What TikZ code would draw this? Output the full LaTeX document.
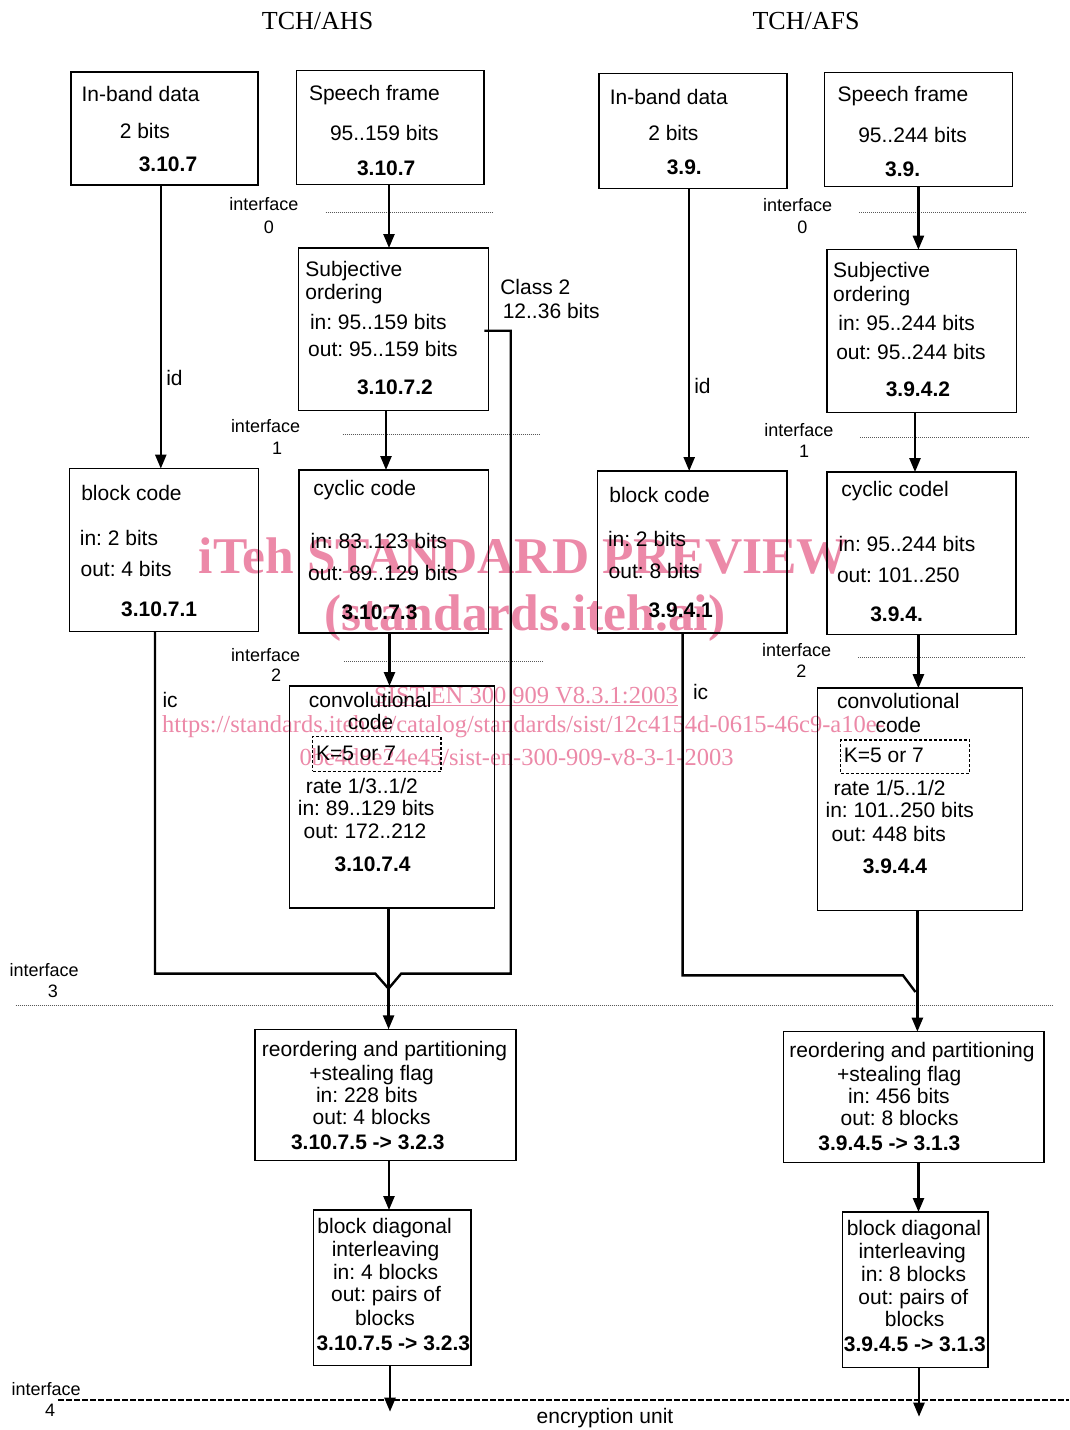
\documentclass[tikz,border=0pt]{standalone}
\usepackage{fontspec}
\usetikzlibrary{arrows.meta,fit}
\frenchspacing
\newfontfamily\arialf{Liberation Sans}
\newfontfamily\timesf{Liberation Serif}
\definecolor{wmpink}{RGB}{236,137,168}
\newcommand\fA{\arialf\fontsize{21}{25}\selectfont}
\newcommand\fAb{\arialf\bfseries\fontsize{21}{25}\selectfont}
\newcommand\fI{\arialf\fontsize{18}{21}\selectfont}
\newcommand\fT{\timesf\fontsize{26}{30}\selectfont}
\newcommand\fWb{\timesf\bfseries\fontsize{51.5}{55}\selectfont}
\newcommand\fW{\timesf\fontsize{24.5}{28}\selectfont}
\newcommand\Ltx[4]{\node[lbl,anchor=base west] (#1) at (#2,#3) {#4};}
\newcommand\Lbx[4]{\node[lblb,anchor=base west] (#1) at (#2,#3) {#4};}
\newcommand\Ctx[4]{\node[lbl,anchor=base] (#1) at (#2,#3) {#4};}
\newcommand\Cbx[4]{\node[lblb,anchor=base] (#1) at (#2,#3) {#4};}
\newcommand\Itx[4]{\node[ifc,anchor=base west] (#1) at (#2,#3) {#4};}
\tikzset{
 box/.style={draw,line width=1.5pt,inner sep=0pt,outer sep=0pt},
 kbox/.style={draw,line width=1.3pt,dash pattern=on 3pt off 2pt,inner sep=0pt,outer sep=0pt},
 lbl/.style={inner sep=0pt,outer sep=0pt,font=\fA},
 lblb/.style={inner sep=0pt,outer sep=0pt,font=\fAb},
 ifc/.style={inner sep=0pt,outer sep=0pt,font=\fI},
 ttl/.style={inner sep=0pt,font=\fT},
 wmb/.style={inner sep=0pt,font=\fWb,text=wmpink},
 wmr/.style={inner sep=0pt,font=\fW,text=wmpink},
 flow/.style={line width=2.4pt,-{Triangle[length=14pt,width=11pt]}},
 wire/.style={line width=2.4pt},
 dotline/.style={line width=1pt,dash pattern=on 1pt off 1pt,black!65},
 dashline/.style={line width=1.5pt,dash pattern=on 6pt off 2pt},
}
\begin{document}
\begin{tikzpicture}[x=1pt,y=-1pt]
\fill[white] (0,0) rectangle (1069,1430);
\useasboundingbox (0,0) rectangle (1069,1430);

% titles
\node[ttl,anchor=base] (tA) at (317.6,29.3) {TCH/AHS};
\node[ttl,anchor=base] (tB) at (806,29.3) {TCH/AFS};

% ---------------- left column boxes
\node[box,fit={(71,72) (258,185)}] (A1) {};
\node[box,fit={(296.5,70.3) (484,184.3)}] (A2) {};
\node[box,fit={(298.6,248) (488.3,410.3)}] (A3) {};
\node[box,fit={(69.6,468.6) (258.6,631.4)}] (A4) {};
\node[box,fit={(298.9,470) (488.3,632.9)}] (A5) {};
\node[box,fit={(289.3,686) (494.5,908.2)}] (A6) {};
\node[kbox,fit={(312.7,736.8) (441.1,771.4)}] (AK) {};
\node[box,fit={(255,1029.3) (516,1160.7)}] (A7) {};
\node[box,fit={(313.6,1210) (471.1,1365.7)}] (A8) {};

\Ltx{a1a}{81.6}{101.7}{In-band data}
\Ltx{a1b}{119.8}{138.3}{2 bits}
\Lbx{a1c}{138.8}{171.7}{3.10.7}
\Ltx{a2a}{309}{100}{Speech frame}
\Ltx{a2b}{330}{140.7}{95..159 bits}
\Lbx{a2c}{357}{175}{3.10.7}
\Ltx{a3a}{305.4}{276}{Subjective}
\Ltx{a3b}{305.4}{299.3}{ordering}
\Ltx{a3c}{310}{329}{in: 95..159 bits}
\Ltx{a3d}{308.2}{356.7}{out: 95..159 bits}
\Lbx{a3e}{357}{394.3}{3.10.7.2}
\Ltx{cls1}{500.3}{294.3}{Class 2}
\Ltx{cls2}{502.8}{318.3}{12..36 bits}
\Ltx{idA}{166.3}{385}{id}
\Itx{i0a}{229.3}{210.7}{interface}
\Itx{i0b}{263.8}{233.3}{0}
\Itx{i1a}{231}{432.3}{interface}
\Itx{i1b}{272}{454}{1}
\Ltx{a4a}{81.3}{500}{block code}
\Ltx{a4b}{79.9}{545}{in: 2 bits}
\Ltx{a4c}{80.6}{576.8}{out: 4 bits}
\Lbx{a4d}{121.2}{616}{3.10.7.1}
\Ltx{a5a}{313.4}{495}{cyclic code}
\Ltx{a5b}{310.6}{548.6}{in: 83..123 bits}
\Ltx{a5c}{308.2}{580.7}{out: 89..129 bits}
\Lbx{a5d}{341.6}{619}{3.10.7.3}
\Itx{i2a}{231}{661}{interface}
\Itx{i2b}{271}{681.4}{2}
\Ltx{a6a}{308.9}{707.9}{convolutional}
\Ltx{a6b}{347.8}{729.6}{code}
\Ltx{a6k}{316}{760.7}{K=5 or 7}
\Ltx{a6c}{305.8}{793.2}{rate 1/3..1/2}
\Ltx{a6d}{297.9}{815.4}{in: 89..129 bits}
\Ltx{a6e}{303.7}{838.6}{out: 172..212}
\Lbx{a6f}{334.7}{871.4}{3.10.7.4}
\Ltx{icA}{162.5}{707.5}{ic}
\Itx{i3a}{9.6}{976}{interface}
\Itx{i3b}{47.9}{997.5}{3}
\Ctx{a7a}{384.5}{1056.7}{reordering and partitioning}
\Ctx{a7b}{371.6}{1080}{+stealing flag}
\Ctx{a7c}{366.8}{1102.3}{in: 228 bits}
\Ctx{a7d}{371.6}{1124.3}{out: 4 blocks}
\Cbx{a7e}{367.8}{1149}{3.10.7.5 -> 3.2.3}
\Ctx{a8a}{384.6}{1233.3}{block diagonal}
\Ctx{a8b}{385.5}{1256.7}{interleaving}
\Ctx{a8c}{385.6}{1279.3}{in: 4 blocks}
\Ctx{a8d}{386}{1301.7}{out: pairs of}
\Ctx{a8e}{385}{1325}{blocks}
\Cbx{a8f}{393.3}{1350}{3.10.7.5 -> 3.2.3}
\Itx{i4a}{11.6}{1395}{interface}
\Itx{i4b}{45}{1416.7}{4}
\Ctx{enc}{605}{1423.3}{encryption unit}

% ---------------- right column boxes
\node[box,fit={(598.8,73.7) (786.8,188.3)}] (B1) {};
\node[box,fit={(824.6,72.3) (1012.3,186.3)}] (B2) {};
\node[box,fit={(827,249.7) (1016.4,412.7)}] (B3) {};
\node[box,fit={(597.7,471) (786.8,633.2)}] (B4) {};
\node[box,fit={(827,472.1) (1016,634.6)}] (B5) {};
\node[box,fit={(817.7,688.2) (1022.6,910.4)}] (B6) {};
\node[kbox,fit={(840.8,740) (969.7,773.2)}] (BK) {};
\node[box,fit={(783.3,1031.7) (1043.8,1162.3)}] (B7) {};
\node[box,fit={(842.6,1212) (987.9,1367.3)}] (B8) {};

\Ltx{b1a}{609.8}{104}{In-band data}
\Ltx{b1b}{648.3}{140.7}{2 bits}
\Lbx{b1c}{666.8}{174}{3.9.}
\Ltx{b2a}{837.7}{101.7}{Speech frame}
\Ltx{b2b}{858.3}{142.7}{95..244 bits}
\Lbx{b2c}{885.1}{176.7}{3.9.}
\Itx{j0a}{763}{211}{interface}
\Itx{j0b}{797.4}{233.3}{0}
\Ltx{b3a}{833.2}{277.7}{Subjective}
\Ltx{b3b}{833.2}{301}{ordering}
\Ltx{b3c}{838.4}{330.7}{in: 95..244 bits}
\Ltx{b3d}{836.3}{359.3}{out: 95..244 bits}
\Lbx{b3e}{885.8}{396.7}{3.9.4.2}
\Ltx{idB}{694.3}{393.3}{id}
\Itx{j1a}{764.4}{436.7}{interface}
\Itx{j1b}{799.2}{457.3}{1}
\Ltx{b4a}{609.4}{502.1}{block code}
\Ltx{b4b}{608}{546.8}{in: 2 bits}
\Ltx{b4c}{608.7}{578.6}{out: 8 bits}
\Lbx{b4d}{648.6}{617.9}{3.9.4.1}
\Ltx{b5a}{841.4}{496.8}{cyclic codel}
\Ltx{b5b}{838.7}{551}{in: 95..244 bits}
\Ltx{b5c}{837}{582.9}{out: 101..250}
\Lbx{b5d}{870.3}{621.8}{3.9.4.}
\Itx{j2a}{762}{656.8}{interface}
\Itx{j2b}{796.4}{677.5}{2}
\Ltx{b6a}{837}{708.9}{convolutional}
\Ltx{b6b}{875.5}{732.1}{code}
\Ltx{b6k}{843.9}{762.9}{K=5 or 7}
\Ltx{b6c}{833.5}{795}{rate 1/5..1/2}
\Ltx{b6d}{825.6}{817.1}{in: 101..250 bits}
\Ltx{b6e}{831.5}{841}{out: 448 bits}
\Lbx{b6f}{862.8}{873.2}{3.9.4.4}
\Ltx{icB}{693}{699.6}{ic}
\Ctx{b7a}{912}{1057.3}{reordering and partitioning}
\Ctx{b7b}{899.2}{1081}{+stealing flag}
\Ctx{b7c}{898.9}{1103.3}{in: 456 bits}
\Ctx{b7d}{899.6}{1125.7}{out: 8 blocks}
\Cbx{b7e}{889.4}{1150.7}{3.9.4.5 -> 3.1.3}
\Ctx{b8a}{913.9}{1235}{block diagonal}
\Ctx{b8b}{912.2}{1258.3}{interleaving}
\Ctx{b8c}{913.7}{1281.7}{in: 8 blocks}
\Ctx{b8d}{913.3}{1304}{out: pairs of}
\Ctx{b8e}{914.7}{1326.7}{blocks}
\Cbx{b8f}{914.9}{1351.7}{3.9.4.5 -> 3.1.3}

% ---------------- interface lines
\coordinate (d0a) at (325.7,212);  \coordinate (d0b) at (493,212);
\coordinate (d1a) at (342.6,434);  \coordinate (d1b) at (539,434);
\coordinate (d2a) at (344.4,661.8); \coordinate (d2b) at (543,661.8);
\coordinate (e0a) at (859.3,212);  \coordinate (e0b) at (1027,212);
\coordinate (e1a) at (860,437.7);  \coordinate (e1b) at (1028.5,437.7);
\coordinate (e2a) at (858.3,657.1); \coordinate (e2b) at (1025.7,657.1);
\coordinate (d3a) at (15.5,1005.7); \coordinate (d3b) at (1053.5,1005.7);
\coordinate (d4a) at (58,1400);    \coordinate (d4b) at (1069,1400);
\draw[dotline] (d0a) -- (d0b);
\draw[dotline] (d1a) -- (d1b);
\draw[dotline] (d2a) -- (d2b);
\draw[dotline] (e0a) -- (e0b);
\draw[dotline] (e1a) -- (e1b);
\draw[dotline] (e2a) -- (e2b);
\draw[dotline] (d3a) -- (d3b);
\draw[dashline] (d4a) -- (d4b);

% ---------------- connectors left
\coordinate (cA1) at (160.8,0);
\coordinate (cA2) at (389,0);
\coordinate (cA3) at (386,0);
\coordinate (cA5) at (389.5,0);
\coordinate (cA6) at (388.6,0);
\coordinate (cA7) at (389,0);
\coordinate (endA) at (390,1411.7);
\coordinate (lA) at (155,0);
\coordinate (clsY) at (0,330.7);
\coordinate (mA) at (388.5,988.6);
\coordinate (kA1) at (375.3,973.6);
\coordinate (kA2) at (510.7,330.7);
\coordinate (kA3) at (510.7,973.6);
\coordinate (kA4) at (401.2,973.6);
\draw[flow] (A1.south -| cA1) -- (A4.north -| cA1);
\draw[flow] (A2.south -| cA2) -- (A3.north -| cA2);
\draw[flow] (A3.south -| cA3) -- (A5.north -| cA3);
\draw[flow] (A5.south -| cA5) -- (A6.north -| cA5);
\draw[flow] (A6.south -| cA6) -- (A7.north -| cA6);
\draw[flow] (A7.south -| cA7) -- (A8.north -| cA7);
\draw[flow] (A8.south -| endA) -- (endA);
\draw[wire] (A4.south -| lA) |- (kA1) -- (mA);
\draw[wire] ([xshift=-4pt]A3.east |- clsY) -- (kA2) -- (kA3) -- (kA4) -- (mA);

% ---------------- connectors right
\coordinate (cB1) at (689.2,0);
\coordinate (cB2) at (918.4,0);
\coordinate (cB3) at (915,0);
\coordinate (cB5) at (918.4,0);
\coordinate (cB6) at (917.4,0);
\coordinate (cB7) at (918.5,0);
\coordinate (endB) at (919,1416.7);
\coordinate (lB) at (682.6,0);
\coordinate (mB) at (915.5,992);
\coordinate (kB1) at (903,975.4);
\draw[flow] (B1.south -| cB1) -- (B4.north -| cB1);
\draw[flow] (B2.south -| cB2) -- (B3.north -| cB2);
\draw[flow] (B3.south -| cB3) -- (B5.north -| cB3);
\draw[flow] (B5.south -| cB5) -- (B6.north -| cB5);
\draw[flow] (B6.south -| cB6) -- (B7.north -| cB6);
\draw[flow] (B7.south -| cB7) -- (B8.north -| cB7);
\draw[flow] (B8.south -| endB) -- (endB);
\draw[wire] (B4.south -| lB) |- (kB1) -- (mB);

% ---------------- watermark
\begin{scope}[blend mode=multiply]
\node[wmb,anchor=base] (w1) at (523.5,573.3) {iTeh STANDARD PREVIEW};
\node[wmb,anchor=base] (w2) at (525,630) {(standards.iteh.ai)};
\node[wmr,anchor=base] (w3) at (526,703.3) {SIST EN 300 909 V8.3.1:2003};
\draw[wmpink,line width=1.2pt] ([yshift=-2.5pt]w3.base west) -- ([yshift=-2.5pt]w3.base east);
\node[wmr,anchor=base west] (w4) at (162,732.7) {https://standards.iteh.ai/catalog/standards/sist/12c4154d-0615-46c9-a10e-};
\node[wmr,anchor=base west] (w5) at (299.3,765) {0be4d8e24e45/sist-en-300-909-v8-3-1-2003};
\end{scope}
\end{tikzpicture}
\end{document}
